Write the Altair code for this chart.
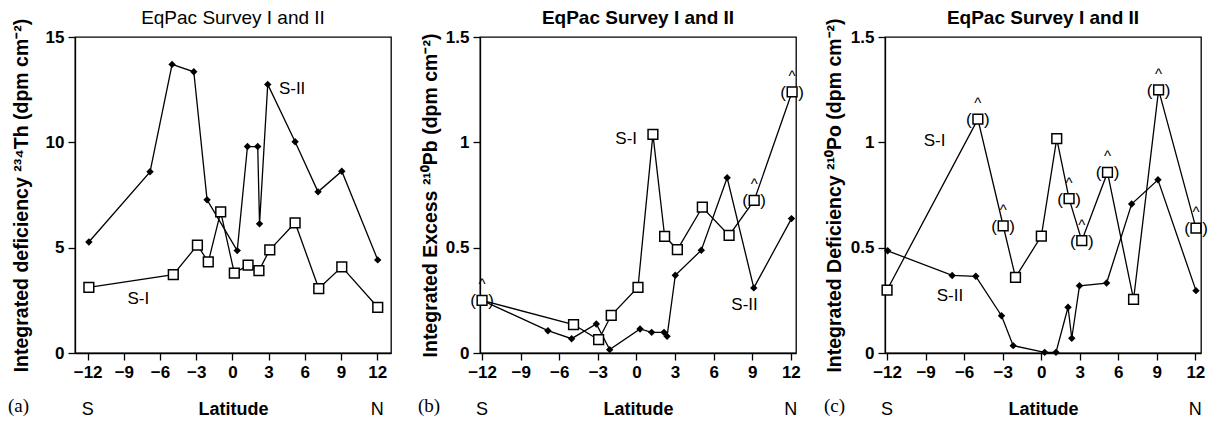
import altair as alt
import pandas as pd

FONT = "Liberation Sans"
SERIF = "Liberation Serif"

# shared axis ticks
LAT_TICKS = [-12, -9, -6, -3, 0, 3, 6, 9, 12]
EDGE_LAT = [-12, 12]
EDGE_TXT = ["S", "N"]
PANEL_TITLE = "EqPac Survey I and II"

# ---- panel (a): 234Th deficiency ----
a_s1_lat = [-11.9, -4.9, -2.9, -2.0, -0.97, 0.16, 1.3, 2.2, 3.1, 5.2, 7.16, 9.07, 12.05]
a_s1_val = [3.12, 3.72, 5.12, 4.32, 6.7, 3.79, 4.17, 3.91, 4.9, 6.18, 3.06, 4.09, 2.17]
a_s1_flag = [0, 0, 0, 0, 0, 0, 0, 0, 0, 0, 0, 0, 0]
a_s2_lat = [-11.9, -6.83, -5.0, -3.2, -2.1, 0.4, 1.25, 2.1, 2.25, 2.93, 5.2, 7.1, 9.07, 12.05]
a_s2_val = [5.27, 8.6, 13.7, 13.35, 7.27, 4.86, 9.8, 9.8, 6.13, 12.75, 10.03, 7.65, 8.63, 4.42]
a_yticks = [0, 5, 10, 15]
a_lab = ["S-II", "S-I"]
a_lab_lat = [4.95, -7.8]
a_lab_val = [12.55, 2.55]

# ---- panel (b): excess 210Pb ----
b_s1_lat = [-12.0, -4.89, -2.94, -1.96, 0.12, 1.28, 2.19, 3.18, 5.12, 7.2, 9.15, 12.1]
b_s1_val = [0.25, 0.135, 0.063, 0.179, 0.312, 1.038, 0.554, 0.491, 0.692, 0.558, 0.724, 1.24]
b_s1_flag = [1, 0, 0, 0, 0, 0, 0, 0, 0, 0, 1, 1]
b_s2_lat = [-12.0, -6.88, -5.04, -3.12, -2.08, 0.28, 1.18, 2.14, 2.38, 3.02, 5.04, 7.05, 9.12, 12.05]
b_s2_val = [0.25, 0.106, 0.068, 0.138, 0.016, 0.114, 0.098, 0.098, 0.079, 0.369, 0.488, 0.832, 0.309, 0.638]
b_yticks = [0, 0.5, 1, 1.5]
b_lab = ["S-I", "S-II"]
b_lab_lat = [-0.8, 8.4]
b_lab_val = [1.016, 0.228]

# ---- panel (c): 210Po deficiency ----
c_s1_lat = [-12.0, -4.93, -2.96, -2.0, 0.01, 1.21, 2.17, 3.16, 5.16, 7.19, 9.14, 12.05]
c_s1_val = [0.299, 1.11, 0.604, 0.359, 0.555, 1.018, 0.733, 0.533, 0.857, 0.254, 1.249, 0.593]
c_s1_flag = [0, 1, 1, 0, 0, 0, 1, 1, 1, 0, 1, 1]
c_s2_lat = [-11.95, -6.93, -5.09, -3.09, -2.18, 0.27, 1.15, 2.09, 2.38, 2.98, 5.09, 7.04, 9.09, 12.05]
c_s2_val = [0.485, 0.368, 0.364, 0.177, 0.035, 0.003, 0.003, 0.217, 0.07, 0.319, 0.332, 0.707, 0.822, 0.296]
c_yticks = [0, 0.5, 1, 1.5]
c_lab = ["S-I", "S-II"]
c_lab_lat = [-8.3, -7.1]
c_lab_val = [1.006, 0.27]

W = 316
H = 316


def panel(tag, tag_x, title_weight, ytitle, ytitle_x, xdom, ydom, yticks,
          s1_lat, s1_val, s1_flag, s2_lat, s2_val, lab, lab_lat, lab_val):
    s1 = pd.DataFrame({"lat": s1_lat, "val": s1_val, "flag": s1_flag,
                       "i": list(range(len(s1_lat)))})
    s2 = pd.DataFrame({"lat": s2_lat, "val": s2_val, "i": list(range(len(s2_lat)))})
    labels = pd.DataFrame({"lat": lab_lat, "val": lab_val, "t": lab})
    edges = pd.DataFrame({"lat": EDGE_LAT, "t": EDGE_TXT})
    tagdf = pd.DataFrame({"t": [tag]})
    titledf = pd.DataFrame({"t": [PANEL_TITLE]})

    x = alt.X("lat:Q", scale=alt.Scale(domain=xdom, nice=False, zero=False),
              axis=alt.Axis(values=LAT_TICKS, title="Latitude", grid=False,
                            titleY=61, titleBaseline="alphabetic",
                            titleFont=FONT, titleFontSize=18, titleFontWeight="bold",
                            titleColor="black"))
    y = alt.Y("val:Q", scale=alt.Scale(domain=ydom, nice=False, zero=True),
              axis=alt.Axis(values=yticks, format="~g", title=ytitle, grid=False,
                            titleAngle=270, titleX=ytitle_x, titleY=H / 2,
                            titleAlign="center", titleBaseline="middle",
                            titleFont=FONT, titleFontSize=19.5, titleFontWeight="bold",
                            titleColor="black"))

    line2 = alt.Chart(s2).mark_line(color="black", strokeWidth=1.3).encode(x=x, y=y, order="i:Q")
    pts2 = alt.Chart(s2).mark_point(shape="diamond", filled=True, color="black",
                                    size=55, opacity=1).encode(x=x, y=y)
    line1 = alt.Chart(s1).mark_line(color="black", strokeWidth=1.3).encode(x=x, y=y, order="i:Q")
    pts1 = alt.Chart(s1).mark_point(shape="square", filled=True, fill="white", stroke="black",
                                    strokeWidth=1.5, size=95, opacity=1).encode(x=x, y=y)

    flagged = alt.Chart(s1).transform_filter("datum.flag == 1")
    lp = flagged.mark_text(text="(", dx=-9, dy=1, font=FONT, fontSize=17,
                           color="black").encode(x=x, y=y)
    rp = flagged.mark_text(text=")", dx=9, dy=1, font=FONT, fontSize=17,
                           color="black").encode(x=x, y=y)
    caret = flagged.mark_text(text="^", dy=-16, font=FONT, fontSize=15,
                              color="black").encode(x=x, y=y)

    names = alt.Chart(labels).mark_text(font=FONT, fontSize=17, color="black",
                                        align="center", baseline="middle").encode(
        x=x, y=y, text="t:N")
    edge = alt.Chart(edges).mark_text(font=FONT, fontSize=18, color="black",
                                      align="center", baseline="alphabetic").encode(
        x=x, y=alt.value(378), text="t:N")
    tagm = alt.Chart(tagdf).mark_text(font=SERIF, fontSize=19, color="black",
                                      align="left", baseline="alphabetic").encode(
        x=alt.value(tag_x), y=alt.value(375), text="t:N")
    head = alt.Chart(titledf).mark_text(font=FONT, fontSize=19, fontWeight=title_weight,
                                        color="black", align="center",
                                        baseline="alphabetic").encode(
        x=alt.value(W / 2), y=alt.value(-13), text="t:N")

    return alt.layer(line2, line1, pts2, pts1, lp, rp, caret, names, edge, tagm, head).properties(
        width=W, height=H,
    )


pa = panel("(a)", -67, "normal",
           "Integrated deficiency ²³⁴Th (dpm cm⁻²)", -54,
           [-13.05, 13.15], [0, 15], a_yticks,
           a_s1_lat, a_s1_val, a_s1_flag, a_s2_lat, a_s2_val, a_lab, a_lab_lat, a_lab_val)
pb = panel("(b)", -62, "bold",
           "Integrated Excess ²¹⁰Pb (dpm cm⁻²)", -50,
           [-12.16, 12.4], [0, 1.5], b_yticks,
           b_s1_lat, b_s1_val, b_s1_flag, b_s2_lat, b_s2_val, b_lab, b_lab_lat, b_lab_val)
pc = panel("(c)", -61, "bold",
           "Integrated Deficiency ²¹⁰Po (dpm cm⁻²)", -51,
           [-12.16, 12.44], [0, 1.5], c_yticks,
           c_s1_lat, c_s1_val, c_s1_flag, c_s2_lat, c_s2_val, c_lab, c_lab_lat, c_lab_val)

chart = alt.hconcat(pa, pb, pc, spacing=89, bounds="flush").properties(
    padding={"left": 7, "top": 8, "right": 0, "bottom": 0},
    background="white",
).configure_view(
    stroke="black", strokeWidth=1.3
).configure_axis(
    domainColor="black", domainWidth=1.3, tickColor="black", tickWidth=1.3, tickSize=7,
    labelFont=FONT, labelFontSize=17, labelFontWeight="bold", labelColor="black",
    labelPadding=4,
)

chart.save("out.html", embed_options={"renderer": "svg", "actions": False})
